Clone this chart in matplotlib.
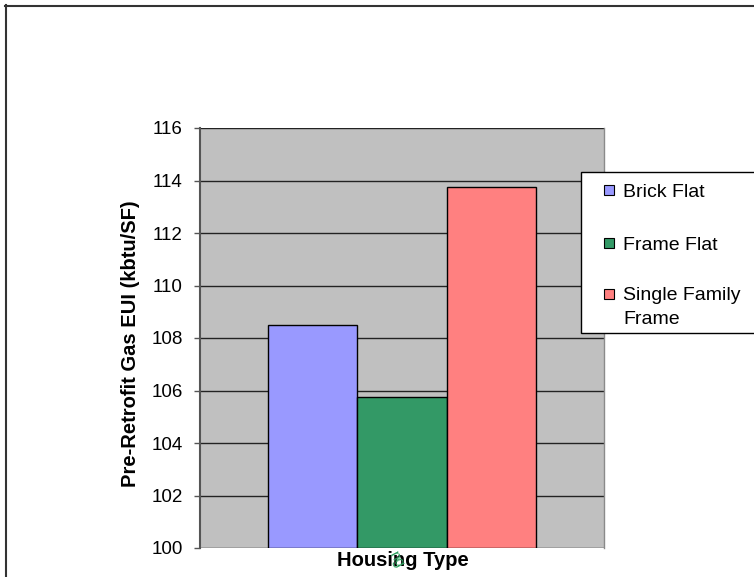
import matplotlib
matplotlib.use("Agg")
import matplotlib.pyplot as plt
from matplotlib.patches import Rectangle
from matplotlib.lines import Line2D

categories = ["Brick Flat", "Frame Flat", "Single Family\nFrame"]
values = [108.5, 105.75, 113.75]
colors = ["#9999FF", "#339966", "#FF8080"]
yticks = [100, 102, 104, 106, 108, 110, 112, 114, 116]

plt.rcParams["font.family"] = ["Liberation Sans", "DejaVu Sans"]

W, H = 754, 577
fig = plt.figure(figsize=(W / 100, H / 100), dpi=100)


def fx(px):
    return px / W


def fy(py):
    return 1 - py / H


ax = fig.add_axes([fx(200), fy(548), 404 / W, 420 / H])
ax.set_facecolor("#C0C0C0")

for i, (cat, val, col) in enumerate(zip(categories, values, colors)):
    ax.bar(i, val - 100, bottom=100, width=1.0, color=col,
           edgecolor="black", linewidth=1.0, label=cat, zorder=3)

half = 404 / 89.3 / 2
ax.set_xlim(1 - half, 1 + half)
ax.set_ylim(100, 116)
ax.set_yticks(yticks)
ax.set_yticklabels([str(t) for t in yticks], fontsize=13.5)
ax.yaxis.grid(True, color="#222222", linewidth=1.0, zorder=1)
ax.set_axisbelow(True)
ax.set_xticks([])
ax.tick_params(axis="y", length=4.5, width=1, color="#555555", pad=8)
for s in ["top", "bottom"]:
    ax.spines[s].set_visible(False)
ax.spines["right"].set_color("#8a8a8a")
ax.spines["right"].set_linewidth(1.0)
ax.spines["left"].set_color("#555555")
ax.spines["left"].set_linewidth(1.5)

# axis titles
fig.text(fx(131), fy(343.5), "Pre-Retrofit Gas EUI (kbtu/SF)", rotation=90,
         ha="center", va="center", fontsize=14.5, fontweight="bold")
fig.text(fx(402.5), fy(566), "Housing Type", ha="center", va="baseline",
         fontsize=14.5, fontweight="bold")
fig.text(fx(396), fy(559), "ng", ha="center", va="center",
         fontsize=11, color="#2e9e5e", rotation=-62)

# legend box, running off the right edge of the figure
fig.patches.append(Rectangle((fx(581), fy(333)), (770 - 581) / W,
                             (333 - 172) / H, transform=fig.transFigure,
                             facecolor="white", edgecolor="black",
                             linewidth=1.0, zorder=5))
legend_lines = [["Brick Flat"], ["Frame Flat"], ["Single Family", "Frame"]]
baselines = [197, 250.5, 300.5]
for lines, col, base in zip(legend_lines, colors, baselines):
    fig.patches.append(Rectangle((fx(603.5), fy(base - 2)), 10 / W, 10 / H,
                                 transform=fig.transFigure, facecolor=col,
                                 edgecolor="black", linewidth=0.8, zorder=6))
    for k, line in enumerate(lines):
        fig.text(fx(623), fy(base + 24 * k), line, ha="left", va="baseline",
                 fontsize=14, zorder=7)

# chart frame (top and left edges)
fig.add_artist(Line2D([fx(5), 1.01], [fy(5.5), fy(5.5)],
                      transform=fig.transFigure, color="#333333",
                      linewidth=1.5))
fig.add_artist(Line2D([fx(5.5), fx(5.5)], [fy(5), -0.01],
                      transform=fig.transFigure, color="#333333",
                      linewidth=1.5))

fig.savefig("out.png", dpi=100)
